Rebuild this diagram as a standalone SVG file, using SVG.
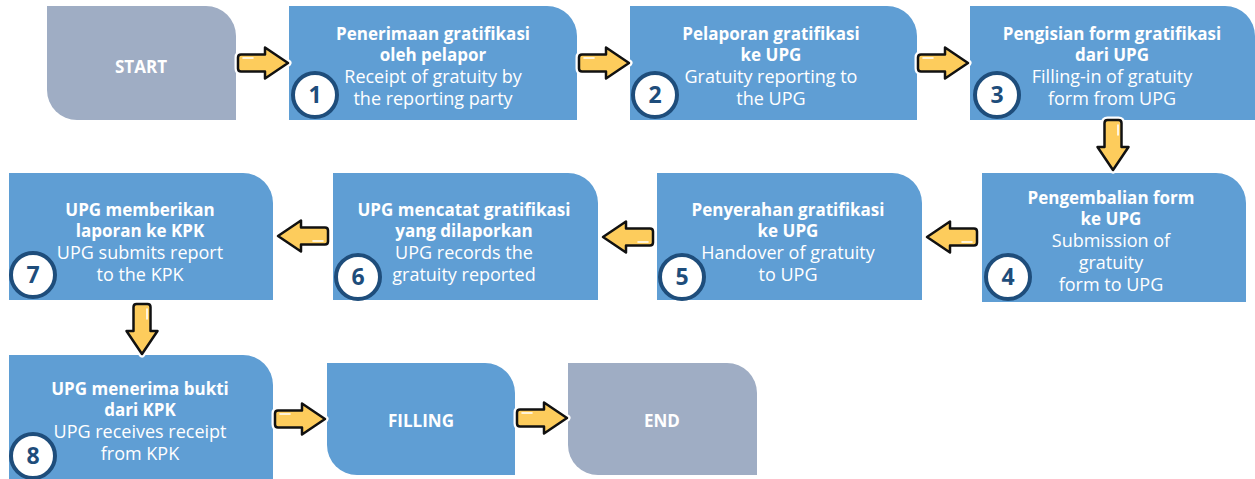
<svg xmlns="http://www.w3.org/2000/svg" width="1255" height="479" viewBox="0 0 1255 479">
<style>
.blue{fill:#5F9ED4}
.gray{fill:#9FADC4}
.t{font-family:"Open Sans","Liberation Sans",sans-serif;fill:#fff;text-anchor:middle;font-size:18px}
.b{font-weight:bold;font-size:17px}
.c{fill:#fff;stroke:#1E4D7B;stroke-width:4}
.n{font-family:"Open Sans","Liberation Sans",sans-serif;fill:#1E4D7B;font-weight:bold;font-size:23px;text-anchor:middle}
.halo{fill:none;stroke:#fff;stroke-width:7;stroke-linejoin:round}
.arr{fill:#FDCC5C;stroke:#111;stroke-width:2.5;stroke-linejoin:round}
.hl{fill:none;stroke:#fff;stroke-width:1.6;stroke-linecap:round}
</style>
<defs>
<path id="ap" d="M-22,-8.5 H2 V-15.5 L25,0 L2,15.5 V8.5 H-22 Q-25,8.5 -25,5.5 V-5.5 Q-25,-8.5 -22,-8.5 Z"/>
<g id="arrow">
<use href="#ap" class="halo"/>
<use href="#ap" class="arr"/>
<path class="hl" d="M-20,-5 H-10"/>
</g>
</defs>
<g id="start">
<path class="gray" d="M47,6 H206 A30 30 0 0 1 236,36 V120 H77 A30 30 0 0 1 47,90 Z"/>
<text class="t b" x="141" y="73">START</text>
</g>
<g id="step1">
<path class="blue" d="M289,6 H547 A30 30 0 0 1 577,36 V120 H289 Z"/>
<text class="t b" x="433" y="40">Penerimaan gratifikasi</text>
<text class="t b" x="433" y="61">oleh pelapor</text>
<text class="t" x="433" y="83">Receipt of gratuity by</text>
<text class="t" x="433" y="105">the reporting party</text>
<circle class="c" cx="315" cy="95" r="22"/>
<text class="n" x="315" y="103">1</text>
</g>
<g id="step2">
<path class="blue" d="M630,6 H887 A30 30 0 0 1 917,36 V120 H630 Z"/>
<text class="t b" x="771" y="40">Pelaporan gratifikasi</text>
<text class="t b" x="771" y="61">ke UPG</text>
<text class="t" x="771" y="83">Gratuity reporting to</text>
<text class="t" x="771" y="105">the UPG</text>
<circle class="c" cx="655" cy="95" r="22"/>
<text class="n" x="655" y="103">2</text>
</g>
<g id="step3">
<path class="blue" d="M970,6 H1225 A30 30 0 0 1 1255,36 V120 H970 Z"/>
<text class="t b" x="1112" y="40">Pengisian form gratifikasi</text>
<text class="t b" x="1112" y="61">dari UPG</text>
<text class="t" x="1112" y="83">Filling-in of gratuity</text>
<text class="t" x="1112" y="105">form from UPG</text>
<circle class="c" cx="997" cy="95" r="22"/>
<text class="n" x="997" y="103">3</text>
</g>
<g id="step4">
<path class="blue" d="M982,173 H1216 A30 30 0 0 1 1246,203 V302 H982 Z"/>
<text class="t b" x="1111" y="204">Pengembalian form</text>
<text class="t b" x="1111" y="225">ke UPG</text>
<text class="t" x="1111" y="247">Submission of</text>
<text class="t" x="1111" y="269">gratuity</text>
<text class="t" x="1111" y="291">form to UPG</text>
<circle class="c" cx="1008" cy="277" r="22"/>
<text class="n" x="1008" y="285">4</text>
</g>
<g id="step5">
<path class="blue" d="M657,173 H892 A30 30 0 0 1 922,203 V300 H657 Z"/>
<text class="t b" x="788" y="216">Penyerahan gratifikasi</text>
<text class="t b" x="788" y="237">ke UPG</text>
<text class="t" x="788" y="259">Handover of gratuity</text>
<text class="t" x="788" y="281">to UPG</text>
<circle class="c" cx="682" cy="277" r="22"/>
<text class="n" x="682" y="285">5</text>
</g>
<g id="step6">
<path class="blue" d="M333,173 H568 A30 30 0 0 1 598,203 V300 H333 Z"/>
<text class="t b" x="464" y="216">UPG mencatat gratifikasi</text>
<text class="t b" x="464" y="237">yang dilaporkan</text>
<text class="t" x="464" y="259">UPG records the</text>
<text class="t" x="464" y="281">gratuity reported</text>
<circle class="c" cx="358" cy="277" r="22"/>
<text class="n" x="358" y="285">6</text>
</g>
<g id="step7">
<path class="blue" d="M9,173 H243 A30 30 0 0 1 273,203 V300 H9 Z"/>
<text class="t b" x="140" y="216">UPG memberikan</text>
<text class="t b" x="140" y="237">laporan ke KPK</text>
<text class="t" x="140" y="259">UPG submits report</text>
<text class="t" x="140" y="281">to the KPK</text>
<circle class="c" cx="33" cy="275" r="22"/>
<text class="n" x="33" y="283">7</text>
</g>
<g id="step8">
<path class="blue" d="M9,355 H243 A30 30 0 0 1 273,385 V480 H9 Z"/>
<text class="t b" x="140" y="395">UPG menerima bukti</text>
<text class="t b" x="140" y="416">dari KPK</text>
<text class="t" x="140" y="438">UPG receives receipt</text>
<text class="t" x="140" y="460">from KPK</text>
<circle class="c" cx="33" cy="456" r="22"/>
<text class="n" x="33" y="464">8</text>
</g>
<g id="filling">
<path class="blue" d="M327,363 H485 A30 30 0 0 1 515,393 V475 H357 A30 30 0 0 1 327,445 Z"/>
<text class="t b" x="421" y="427">FILLING</text>
</g>
<g id="end">
<path class="gray" d="M568,363 H727 A30 30 0 0 1 757,393 V475 H598 A30 30 0 0 1 568,445 Z"/>
<text class="t b" x="662" y="427">END</text>
</g>
<g id="connectors">
<use href="#arrow" transform="translate(263,63)"/>
<use href="#arrow" transform="translate(604,63)"/>
<use href="#arrow" transform="translate(943,63)"/>
<use href="#arrow" transform="translate(1113,145) rotate(90)"/>
<use href="#arrow" transform="translate(952,237) rotate(180)"/>
<use href="#arrow" transform="translate(628,237) rotate(180)"/>
<use href="#arrow" transform="translate(303,236) rotate(180)"/>
<use href="#arrow" transform="translate(142,329) rotate(90)"/>
<use href="#arrow" transform="translate(300,419)"/>
<use href="#arrow" transform="translate(542,418)"/>
</g>
</svg>
